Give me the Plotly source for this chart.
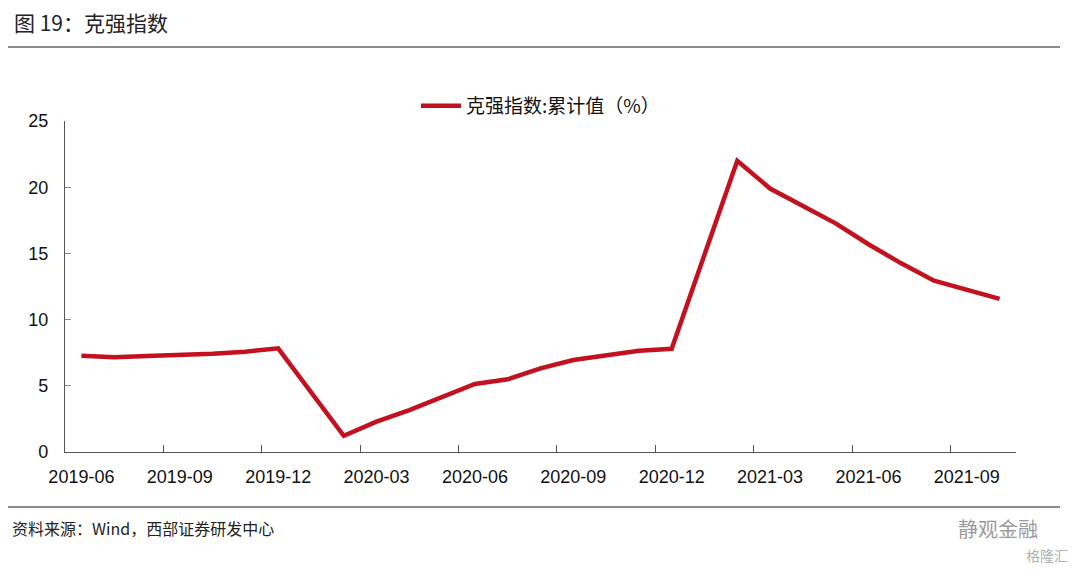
import plotly.graph_objects as go

months = ["2019-06", "2019-07", "2019-08", "2019-09", "2019-10", "2019-11", "2019-12",
          "2020-01", "2020-02", "2020-03", "2020-04", "2020-05", "2020-06", "2020-07",
          "2020-08", "2020-09", "2020-10", "2020-11", "2020-12", "2021-01", "2021-02",
          "2021-03", "2021-04", "2021-05", "2021-06", "2021-07", "2021-08", "2021-09",
          "2021-10"]
keqiang = [7.27, 7.15, 7.25, 7.33, 7.43, 7.58, 7.83,
           None, 1.22, 2.29, 3.17, 4.18, 5.14, 5.49,
           6.32, 6.95, 7.33, 7.65, 7.80, None, 22.0,
           19.9, 18.6, 17.27, 15.69, 14.25, 12.94, 12.24,
           11.56]
series_name = "克强指数:累计值（%）"
title_text = "图 19：克强指数"
source_text = "资料来源：Wind，西部证券研发中心"

CJK = "Noto Sans CJK SC"
NUM = "Liberation Sans, Arial, sans-serif"

fig = go.Figure()
fig.add_trace(go.Scatter(
    x=months, y=keqiang, mode="lines", name=series_name,
    connectgaps=True,
    line=dict(color="#C4111F", width=4.5),
))

W, H = 1080, 575
L, R, T, B = 65, 64, 121, 123
pw, ph = W - L - R, H - T - B


def px(x):
    return (x - L) / pw


def py(y):
    return (H - B - y) / ph


fig.update_layout(
    width=W, height=H,
    margin=dict(l=L, r=R, t=T, b=B, autoexpand=False),
    paper_bgcolor="white", plot_bgcolor="white",
    showlegend=True,
    legend=dict(orientation="h", x=0.5, xanchor="center", y=py(106), yanchor="middle",
                font=dict(family=CJK, size=19, color="#111"), bgcolor="rgba(0,0,0,0)",
                itemwidth=40),
    xaxis=dict(
        type="category", categoryorder="array", categoryarray=months,
        range=[-0.5, len(months) - 0.5],
        tickmode="linear", tick0=0, dtick=3,
        tickson="boundaries", tickangle=0, automargin=False,
        ticks="inside", ticklen=7, tickcolor="#555", tickwidth=1,
        showline=True, linecolor="#555", linewidth=1.2,
        showgrid=False, zeroline=False,
        tickfont=dict(family=NUM, size=18, color="#111"),
        ticklabelstandoff=8,
    ),
    yaxis=dict(
        range=[0, 25], tickmode="linear", tick0=0, dtick=5, automargin=False,
        ticks="inside", ticklen=6, tickcolor="#888", tickwidth=1,
        showline=True, linecolor="#555", linewidth=1.2,
        showgrid=False, zeroline=False,
        tickfont=dict(family=NUM, size=18, color="#111"),
        ticklabelstandoff=12,
    ),
    shapes=[
        dict(type="line", xref="paper", yref="paper", x0=px(8), x1=px(1060), y0=py(47), y1=py(47),
             line=dict(color="#666", width=1.5)),
        dict(type="line", xref="paper", yref="paper", x0=px(8), x1=px(1060), y0=py(507), y1=py(507),
             line=dict(color="#666", width=1.5)),
    ],
    annotations=[
        dict(text=title_text, xref="paper", yref="paper", x=px(12), y=py(22),
             xanchor="left", yanchor="middle", showarrow=False,
             font=dict(family=CJK, size=21, color="#222")),
        dict(text=source_text, xref="paper", yref="paper", x=px(10), y=py(528),
             xanchor="left", yanchor="middle", showarrow=False,
             font=dict(family=CJK, size=16, color="#222")),
        dict(text="静观金融", xref="paper", yref="paper", x=px(1040), y=py(528),
             xanchor="right", yanchor="middle", showarrow=False,
             font=dict(family=CJK, size=20, color="#9a9a9a")),
        dict(text="格隆汇", xref="paper", yref="paper", x=px(1070), y=py(555),
             xanchor="right", yanchor="middle", showarrow=False,
             font=dict(family=CJK, size=14, color="#b0b0b0")),
    ],
)

fig.write_html("out.html", config={"displayModeBar": False},
               post_script="document.body.style.margin='0';document.body.style.padding='0';")
